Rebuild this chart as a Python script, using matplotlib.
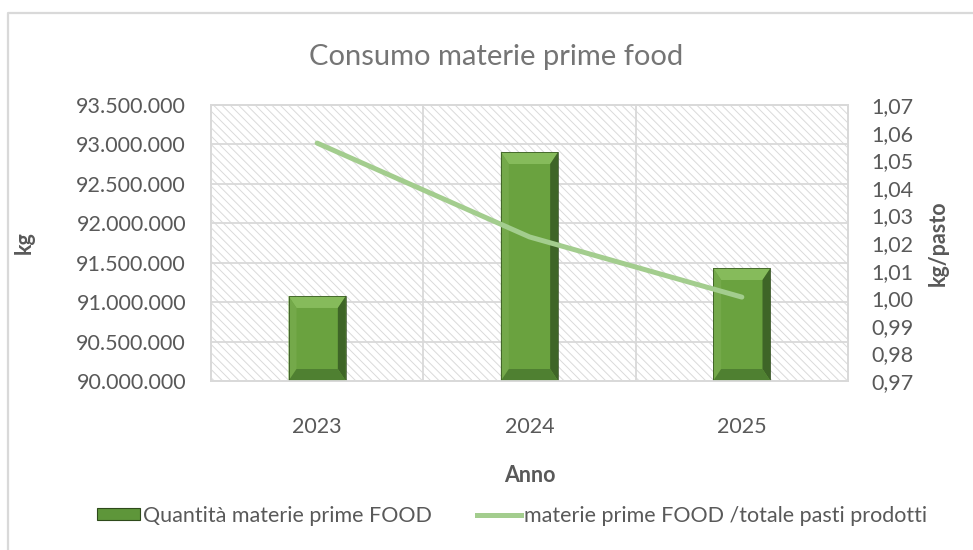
import matplotlib
matplotlib.use("Agg")
import matplotlib.pyplot as plt
from matplotlib.patches import Polygon, Patch
from matplotlib.lines import Line2D
from matplotlib.ticker import FuncFormatter, FixedLocator
import numpy as np

anni = ["2023", "2024", "2025"]
quantita_kg = [91078000, 92904000, 91433000]
kg_per_pasto = [1.0562, 1.0222, 1.0004]
tick_kg = [90000000, 90500000, 91000000, 91500000, 92000000, 92500000, 93000000, 93500000]
tick_pasto = [0.97, 0.98, 0.99, 1.00, 1.01, 1.02, 1.03, 1.04, 1.05, 1.06, 1.07]

titolo = "Consumo materie prime food"
label_barre = "Quantità materie prime FOOD"
label_linea = "materie prime FOOD /totale pasti prodotti"

grigio_testo = "#595959"
grigio_griglia = "#d9d9d9"
verde_linea = "#a3cd8e"
fs = 15.5

plt.rcParams["font.family"] = ["Lato", "DejaVu Sans"]
plt.rcParams["hatch.linewidth"] = 0.7

fig = plt.figure(figsize=(9.73, 5.5), dpi=100)
ax = fig.add_axes([211 / 973, 1 - 381 / 550, 637 / 973, 276 / 550])

# sfondo tratteggiato dell'area del grafico
ax.patch.set_facecolor("white")
ax.patch.set_hatch("\\\\\\\\")
ax.patch.set_edgecolor("#dadada")
ax.patch.set_linewidth(0)

x = np.arange(len(anni))
larghezza = 0.27
ax.set_xlim(-0.5, len(anni) - 0.5)
ax.set_ylim(tick_kg[0], tick_kg[-1])
ax.set_axisbelow(True)

barre = ax.bar(x, quantita_kg, width=larghezza, color="#6aa23f", zorder=2)

# effetto smussato sulle barre (profondita in pixel convertita in dati)
inv = ax.transData.inverted()
p0 = inv.transform((0, 0))
dx = (inv.transform((8, 0)) - p0)[0]
dy = (inv.transform((0, 12)) - p0)[1]
base = ax.get_ylim()[0]
for b in barre:
    x0, x1 = b.get_x(), b.get_x() + b.get_width()
    y0, y1 = base, b.get_height()
    facce = [
        ([(x0, y1), (x1, y1), (x1 - dx, y1 - dy), (x0 + dx, y1 - dy)], "#86bb5b"),
        ([(x0, y0), (x0, y1), (x0 + dx, y1 - dy), (x0 + dx, y0 + dy)], "#74a94a"),
        ([(x1, y0), (x1, y1), (x1 - dx, y1 - dy), (x1 - dx, y0 + dy)], "#3e6527"),
        ([(x0, y0), (x1, y0), (x1 - dx, y0 + dy), (x0 + dx, y0 + dy)], "#4f8031"),
    ]
    for pts, col in facce:
        ax.add_patch(Polygon(pts, closed=True, facecolor=col, edgecolor="none", zorder=3))
    ax.add_patch(Polygon([(x0, y0), (x0, y1), (x1, y1), (x1, y0)], closed=True,
                         facecolor="none", edgecolor="#2e4a1b", linewidth=0.5, zorder=4))

ax.set_xticks(x)
ax.set_xticklabels(anni)
ax.set_yticks(tick_kg)
ax.xaxis.set_minor_locator(FixedLocator([0.5, 1.5]))
ax.grid(axis="y", color=grigio_griglia, linewidth=1.3)
ax.grid(axis="x", which="minor", color=grigio_griglia, linewidth=1.3)
ax.tick_params(which="both", length=0, colors=grigio_testo, labelsize=fs)
ax.tick_params(axis="x", pad=26)
ax.tick_params(axis="y", pad=18)
ax.yaxis.set_major_formatter(FuncFormatter(lambda v, p: f"{int(v):,}".replace(",", ".")))
for s in ax.spines.values():
    s.set_color(grigio_griglia)
    s.set_linewidth(1.3)

ax.set_xlabel("Anno", fontsize=fs, fontweight="bold", color=grigio_testo, labelpad=20)
ax.set_ylabel("kg", fontsize=fs, fontweight="bold", color=grigio_testo, labelpad=30)

ax2 = ax.twinx()
ax2.set_ylim(tick_pasto[0], tick_pasto[-1])
ax2.set_yticks(tick_pasto)
ax2.yaxis.set_major_formatter(FuncFormatter(lambda v, p: f"{v:.2f}".replace(".", ",")))
ax2.plot(x, kg_per_pasto, color=verde_linea, linewidth=3.6, solid_capstyle="round", zorder=5)
ax2.tick_params(length=0, colors=grigio_testo, labelsize=fs, pad=17)
ax2.set_ylabel("kg/pasto", fontsize=fs, fontweight="bold", color=grigio_testo, labelpad=10)
for s in ax2.spines.values():
    s.set_color(grigio_griglia)
    s.set_linewidth(1.3)

fig.text(496 / 973, 1 - 57 / 550, titolo, ha="center", va="center", fontsize=21, color="#757575")

# cornice del grafico (solo lati sinistro e superiore visibili)
fig.add_artist(Line2D([8 / 973, 8 / 973, 1.0], [0.0, 1 - 13 / 550, 1 - 13 / 550],
                      color=grigio_griglia, linewidth=1.6, transform=fig.transFigure))

handles = [
    Patch(facecolor="#5e963a", edgecolor="#2e4a1b", linewidth=0.8),
    Line2D([0], [0], color=verde_linea, linewidth=3.6),
]
fig.legend(handles, [label_barre, label_linea], loc="center", ncol=2,
           bbox_to_anchor=(512 / 973, 1 - 516 / 550), frameon=False,
           fontsize=fs, labelcolor=grigio_testo, handlelength=2.0,
           handleheight=0.5, handletextpad=0.15, columnspacing=2.1)

fig.savefig("out.png", dpi=100)
